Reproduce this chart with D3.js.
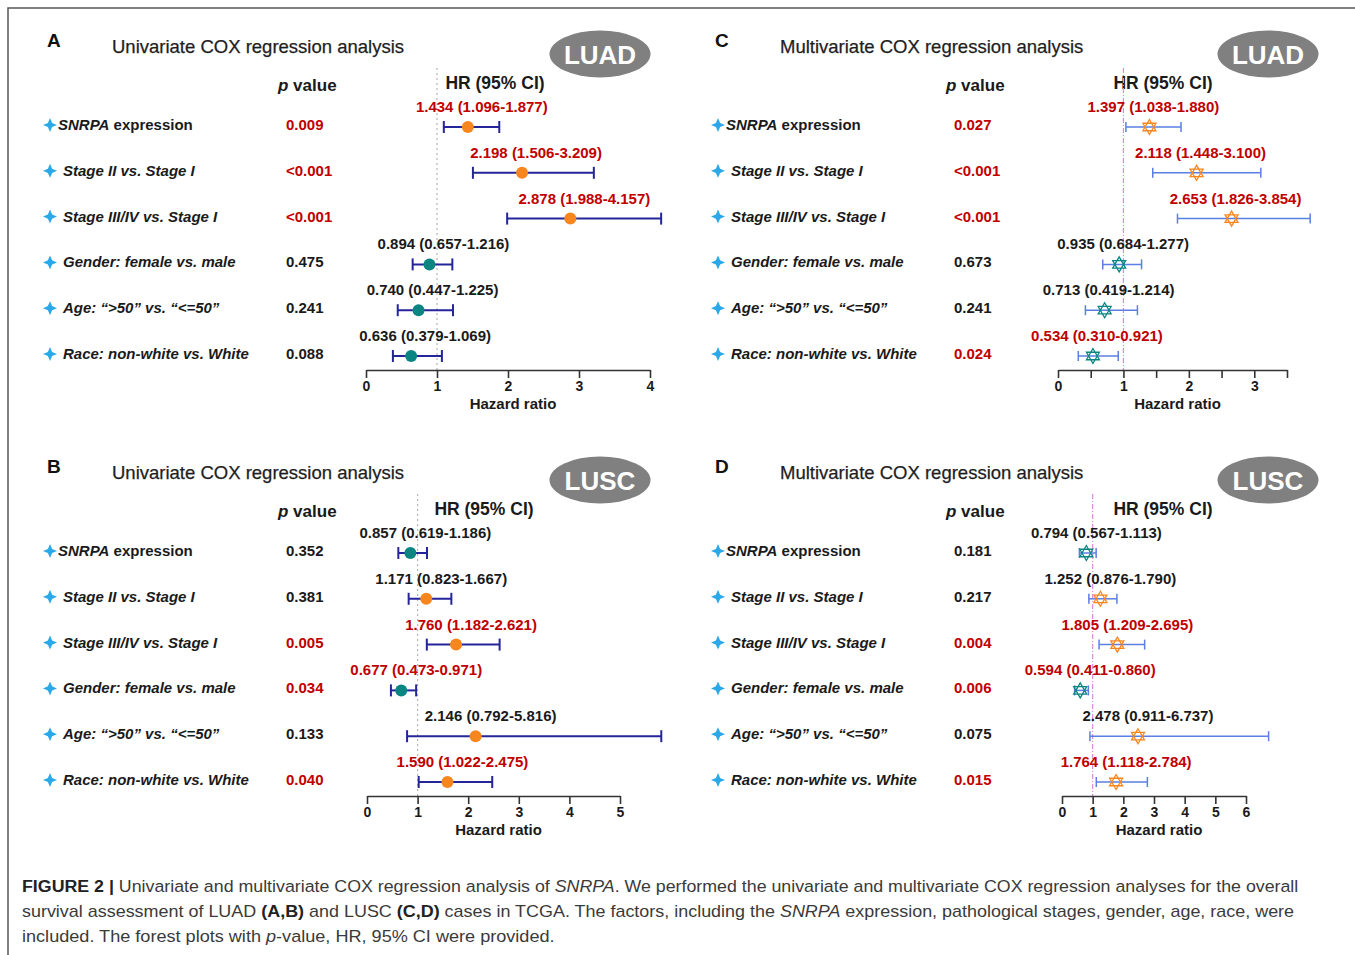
<!DOCTYPE html>
<html>
<head>
<meta charset="utf-8">
<script src="https://cdn.jsdelivr.net/npm/d3@7"></script>
<style>
  body { margin: 0; background: #fff; }
  text { font-family: "Liberation Sans", Arial, sans-serif; }
</style>
</head>
<body>
<svg id="chart" width="1355" height="955"></svg>
<script>
// row factors (same for all four panels)
const factors = [
  "SNRPA expression",
  "Stage II vs. Stage I",
  "Stage III/IV vs. Stage I",
  "Gender: female vs. male",
  "Age: \u201c>50\u201d vs. \u201c<=50\u201d",
  "Race: non-white vs. White"
];

// A: LUAD univariate
const pA = ["0.009", "<0.001", "<0.001", "0.475", "0.241", "0.088"];
const hrA = [1.434, 2.198, 2.878, 0.894, 0.740, 0.636];
const loA = [1.096, 1.506, 1.988, 0.657, 0.447, 0.379];
const hiA = [1.877, 3.209, 4.157, 1.216, 1.225, 1.069];

// B: LUSC univariate
const pB = ["0.352", "0.381", "0.005", "0.034", "0.133", "0.040"];
const hrB = [0.857, 1.171, 1.760, 0.677, 2.146, 1.590];
const loB = [0.619, 0.823, 1.182, 0.473, 0.792, 1.022];
const hiB = [1.186, 1.667, 2.621, 0.971, 5.816, 2.475];

// C: LUAD multivariate
const pC = ["0.027", "<0.001", "<0.001", "0.673", "0.241", "0.024"];
const hrC = [1.397, 2.118, 2.653, 0.935, 0.713, 0.534];
const loC = [1.038, 1.448, 1.826, 0.684, 0.419, 0.310];
const hiC = [1.880, 3.100, 3.854, 1.277, 1.214, 0.921];

// D: LUSC multivariate
const pD = ["0.181", "0.217", "0.004", "0.006", "0.075", "0.015"];
const hrD = [0.794, 1.252, 1.805, 0.594, 2.478, 1.764];
const loD = [0.567, 0.876, 1.209, 0.411, 0.911, 1.118];
const hiD = [1.113, 1.790, 2.695, 0.860, 6.737, 2.784];

// axis ticks
const ticksA = [0, 1, 2, 3, 4];
const ticksB = [0, 1, 2, 3, 4, 5];
const ticksC = [0, 0.5, 1, 1.5, 2, 2.5, 3, 3.5];
const ticksD = [0, 1, 2, 3, 4, 5, 6];

const RED = "#c00000", INK = "#1a1a1a";
const ORANGE = "#f7861f", TEAL = "#0b8582";

const panels = [
  { key: "A", title: "Univariate COX regression analysis", tag: "LUAD", multi: false,
    dx: 0, dy: 0, p: pA, hr: hrA, lo: loA, hi: hiA, ticks: ticksA,
    domain: [0, 4], range: [366, 650], hrHead: 495, labShift: 14 },
  { key: "B", title: "Univariate COX regression analysis", tag: "LUSC", multi: false,
    dx: 0, dy: 426, p: pB, hr: hrB, lo: loB, hi: hiB, ticks: ticksB,
    domain: [0, 5], range: [367, 620], hrHead: 484, labShift: 15 },
  { key: "C", title: "Multivariate COX regression analysis", tag: "LUAD", multi: true,
    dx: 668, dy: 0, p: pC, hr: hrC, lo: loC, hi: hiC, ticks: ticksC,
    domain: [0, 3.5], range: [1058, 1287], hrHead: 1163, labShift: 4 },
  { key: "D", title: "Multivariate COX regression analysis", tag: "LUSC", multi: true,
    dx: 668, dy: 426, p: pD, hr: hrD, lo: loD, hi: hiD, ticks: ticksD,
    domain: [0, 6], range: [1062, 1246], hrHead: 1163, labShift: 10 }
];

const svg = d3.select("#chart");

// outer frame
svg.append("path")
  .attr("d", "M8,955 L8,8 L1355,8")
  .attr("fill", "none")
  .attr("stroke", "#555")
  .attr("stroke-width", 1.5);

const sig = p => p.startsWith("<") || +p < 0.05;

function star4(r) {
  const k = r * 0.3;
  return `M0,${-r} L${k},${-k} L${r},0 L${k},${k} L0,${r} L${-k},${k} L${-r},0 L${-k},${-k} Z`;
}
function hexagram(r) {
  const pt = a => [r * Math.cos(a * Math.PI / 180), r * Math.sin(a * Math.PI / 180)];
  const tri = angs => "M" + angs.map(a => pt(a).join(",")).join(" L") + " Z";
  return tri([-90, 30, 150]) + " " + tri([90, 210, 330]);
}

panels.forEach(P => {
  const g = svg.append("g").attr("transform", `translate(0,${P.dy})`);
  const dx = P.dx;

  const x = d3.scaleLinear().domain(P.domain).range(P.range);
  const y = d3.scalePoint().domain(factors).range([125, 354]);
  const axisY = 370;

  // panel letter + title
  g.append("text").attr("x", 47 + dx).attr("y", 47)
    .attr("font-size", 19).attr("font-weight", "bold").attr("fill", "#111").text(P.key);
  g.append("text").attr("x", 112 + dx).attr("y", 53)
    .attr("font-size", 18.5).attr("fill", "#1e1e1e")
    .attr("stroke", "#1e1e1e").attr("stroke-width", 0.25).text(P.title);

  // cohort badge
  g.append("ellipse").attr("cx", 600 + dx).attr("cy", 54).attr("rx", 50.5).attr("ry", 23.5)
    .attr("fill", "#808080");
  g.append("text").attr("x", 600 + dx).attr("y", 63.5).attr("text-anchor", "middle")
    .attr("font-size", 26).attr("font-weight", "bold").attr("fill", "#fff").text(P.tag);

  // column headers
  const ph = g.append("text").attr("x", 278 + dx).attr("y", 91)
    .attr("font-size", 17).attr("font-weight", "bold").attr("fill", INK);
  ph.append("tspan").attr("font-style", "italic").text("p");
  ph.append("tspan").text(" value");
  g.append("text").attr("x", P.hrHead).attr("y", 89).attr("text-anchor", "middle")
    .attr("font-size", 17.5).attr("font-weight", "bold").attr("fill", INK).text("HR (95% CI)");

  // reference line at HR = 1
  g.append("line")
    .attr("x1", x(1)).attr("x2", x(1)).attr("y1", 68).attr("y2", axisY)
    .attr("stroke", P.multi ? "#d98ad9" : "#b5b5b5")
    .attr("stroke-width", 1.2)
    .attr("stroke-dasharray", P.multi ? "5,2,1,2" : "2,3");

  // row labels
  const rows = g.selectAll(".row").data(factors).enter().append("g").attr("class", "row");
  rows.append("path")
    .attr("transform", d => `translate(${50 + dx},${y(d)})`)
    .attr("d", star4(7))
    .attr("fill", "#2aa8e8");
  rows.append("text")
    .attr("x", (d, i) => (i === 0 ? 58 : 63) + dx)
    .attr("y", d => y(d) + 5)
    .attr("font-size", 15).attr("font-weight", "bold").attr("fill", INK)
    .each(function (d, i) {
      const t = d3.select(this);
      if (i === 0) {
        t.append("tspan").attr("font-style", "italic").text("SNRPA");
        t.append("tspan").text(" expression");
      } else {
        t.attr("font-style", "italic").text(d);
      }
    });

  // p values
  g.selectAll(".pv").data(P.p).enter().append("text")
    .attr("x", 286 + dx)
    .attr("y", (d, i) => y(factors[i]) + 5)
    .attr("font-size", 15).attr("font-weight", "bold")
    .attr("fill", d => sig(d) ? RED : INK)
    .text(d => d);

  // HR labels
  const f3 = d3.format(".3f");
  g.selectAll(".hrl").data(P.hr).enter().append("text")
    .attr("x", (d, i) => x(d) + P.labShift)
    .attr("y", (d, i) => y(factors[i]) - 13)
    .attr("text-anchor", "middle")
    .attr("font-size", 15).attr("font-weight", "bold")
    .attr("fill", (d, i) => sig(P.p[i]) ? RED : INK)
    .text((d, i) => `${f3(d)} (${f3(P.lo[i])}-${f3(P.hi[i])})`);

  // error bars
  const barCol = P.multi ? "#5b7fe3" : "#25259a";
  const bw = P.multi ? 1.5 : 2;
  const cap = P.multi ? 5 : 6;
  const bars = g.selectAll(".bar").data(P.hr).enter().append("g").attr("class", "bar")
    .attr("transform", (d, i) => `translate(0,${y(factors[i]) + 2})`);
  bars.append("line")
    .attr("x1", (d, i) => x(P.lo[i])).attr("x2", (d, i) => x(P.hi[i]))
    .attr("stroke", barCol).attr("stroke-width", bw);
  bars.append("line")
    .attr("x1", (d, i) => x(P.lo[i])).attr("x2", (d, i) => x(P.lo[i]))
    .attr("y1", -cap).attr("y2", cap).attr("stroke", barCol).attr("stroke-width", bw);
  bars.append("line")
    .attr("x1", (d, i) => x(P.hi[i])).attr("x2", (d, i) => x(P.hi[i]))
    .attr("y1", -cap).attr("y2", cap).attr("stroke", barCol).attr("stroke-width", bw);

  if (P.multi) {
    bars.append("path")
      .attr("transform", d => `translate(${x(d)},0)`)
      .attr("d", hexagram(7.5))
      .attr("fill", "none")
      .attr("stroke", d => d > 1 ? ORANGE : TEAL)
      .attr("stroke-width", 1.3);
  } else {
    bars.append("circle")
      .attr("cx", d => x(d)).attr("r", 6)
      .attr("fill", d => d > 1 ? ORANGE : TEAL);
  }

  // x axis
  const ax = g.append("g")
    .attr("transform", `translate(0,${axisY})`)
    .call(d3.axisBottom(x).tickValues(P.ticks).tickSize(8).tickSizeOuter(0)
      .tickFormat(d => Number.isInteger(d) ? d : ""));
  ax.select(".domain").attr("stroke", "#333").attr("stroke-width", 1.6);
  ax.selectAll(".tick line").attr("stroke", "#333").attr("stroke-width", 1.6);
  ax.selectAll(".tick text")
    .attr("font-family", "Liberation Sans, Arial, sans-serif")
    .attr("font-size", 14).attr("font-weight", "bold").attr("fill", INK);

  g.append("text")
    .attr("x", (P.range[0] + P.range[1]) / 2 + 5)
    .attr("y", axisY + 39)
    .attr("text-anchor", "middle")
    .attr("font-size", 15).attr("font-weight", "bold").attr("fill", INK)
    .text("Hazard ratio");
});

// caption
const capLines = [
  [["FIGURE 2 | ", "b"], ["Univariate and multivariate COX regression analysis of ", ""], ["SNRPA", "i"],
   [". We performed the univariate and multivariate COX regression analyses for the overall", ""]],
  [["survival assessment of LUAD ", ""], ["(A,B)", "b"], [" and LUSC ", ""], ["(C,D)", "b"],
   [" cases in TCGA. The factors, including the ", ""], ["SNRPA", "i"],
   [" expression, pathological stages, gender, age, race, were", ""]],
  [["included. The forest plots with ", ""], ["p", "i"], ["-value, HR, 95% CI were provided.", ""]]
];
const capWidths = [1277, 1273, 533];

capLines.forEach((parts, li) => {
  const t = svg.append("text")
    .attr("x", 22).attr("y", 892 + li * 25)
    .attr("font-size", 17).attr("fill", "#3a3a3a");
  parts.forEach(([s, st]) => {
    const sp = t.append("tspan").text(s);
    if (st === "b") sp.attr("font-weight", "bold").attr("fill", "#222");
    if (st === "i") sp.attr("font-style", "italic");
  });
  const w = t.node().getComputedTextLength();
  const k = capWidths[li] / w;
  t.attr("transform", `translate(22,0) scale(${k},1) translate(-22,0)`);
});
</script>
</body>
</html>
